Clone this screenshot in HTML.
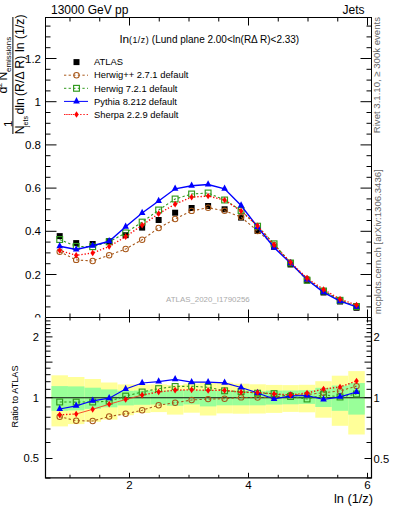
<!DOCTYPE html>
<html><head><meta charset="utf-8"><style>html,body{margin:0;padding:0;background:#fff;overflow:hidden}svg{display:block}text{font-family:"Liberation Sans",sans-serif}</style></head>
<body><svg width="393" height="512" viewBox="0 0 393 512">
<rect x="0" y="0" width="393" height="512" fill="#fff"/>
<text x="41" y="321.8" font-family="&quot;Liberation Sans&quot;, sans-serif" font-size="11.5" text-anchor="end">0</text>
<text x="41" y="278.6" font-family="&quot;Liberation Sans&quot;, sans-serif" font-size="11.5" text-anchor="end">0.2</text>
<text x="41" y="235.4" font-family="&quot;Liberation Sans&quot;, sans-serif" font-size="11.5" text-anchor="end">0.4</text>
<text x="41" y="192.2" font-family="&quot;Liberation Sans&quot;, sans-serif" font-size="11.5" text-anchor="end">0.6</text>
<text x="41" y="149.0" font-family="&quot;Liberation Sans&quot;, sans-serif" font-size="11.5" text-anchor="end">0.8</text>
<text x="41" y="105.8" font-family="&quot;Liberation Sans&quot;, sans-serif" font-size="11.5" text-anchor="end">1</text>
<text x="41" y="62.6" font-family="&quot;Liberation Sans&quot;, sans-serif" font-size="11.5" text-anchor="end">1.2</text>
<path d="M45.5,317.70h11M371.5,317.70h-11M45.5,306.90h5M371.5,306.90h-5M45.5,296.10h5M371.5,296.10h-5M45.5,285.30h5M371.5,285.30h-5M45.5,274.50h11M371.5,274.50h-11M45.5,263.70h5M371.5,263.70h-5M45.5,252.90h5M371.5,252.90h-5M45.5,242.10h5M371.5,242.10h-5M45.5,231.30h11M371.5,231.30h-11M45.5,220.50h5M371.5,220.50h-5M45.5,209.70h5M371.5,209.70h-5M45.5,198.90h5M371.5,198.90h-5M45.5,188.10h11M371.5,188.10h-11M45.5,177.30h5M371.5,177.30h-5M45.5,166.50h5M371.5,166.50h-5M45.5,155.70h5M371.5,155.70h-5M45.5,144.90h11M371.5,144.90h-11M45.5,134.10h5M371.5,134.10h-5M45.5,123.30h5M371.5,123.30h-5M45.5,112.50h5M371.5,112.50h-5M45.5,101.70h11M371.5,101.70h-11M45.5,90.90h5M371.5,90.90h-5M45.5,80.10h5M371.5,80.10h-5M45.5,69.30h5M371.5,69.30h-5M45.5,58.50h11M371.5,58.50h-11M45.5,47.70h5M371.5,47.70h-5M45.5,36.90h5M371.5,36.90h-5M45.5,26.10h5M371.5,26.10h-5M70.00,17.5v4M70.00,317.5v-4M99.75,17.5v4M99.75,317.5v-4M129.50,17.5v8M129.50,317.5v-8M159.25,17.5v4M159.25,317.5v-4M189.00,17.5v4M189.00,317.5v-4M218.75,17.5v4M218.75,317.5v-4M248.50,17.5v8M248.50,317.5v-8M278.25,17.5v4M278.25,317.5v-4M308.00,17.5v4M308.00,317.5v-4M337.75,17.5v4M337.75,317.5v-4M367.50,17.5v8M367.50,317.5v-8" stroke="#000" stroke-width="1" fill="none"/>
<rect x="45.5" y="17.5" width="326.0" height="300.0" fill="none" stroke="#000" stroke-width="1"/>
<text x="166" y="301.8" font-family="&quot;Liberation Sans&quot;, sans-serif" font-size="7.9" fill="#aaaaaa">ATLAS_2020_I1790256</text>
<rect x="56.70" y="233.10" width="6" height="6" fill="#000"/><rect x="73.19" y="240.10" width="6" height="6" fill="#000"/><rect x="89.68" y="241.00" width="6" height="6" fill="#000"/><rect x="106.17" y="238.10" width="6" height="6" fill="#000"/><rect x="122.66" y="232.20" width="6" height="6" fill="#000"/><rect x="139.15" y="224.60" width="6" height="6" fill="#000"/><rect x="155.64" y="217.00" width="6" height="6" fill="#000"/><rect x="172.13" y="209.70" width="6" height="6" fill="#000"/><rect x="188.62" y="205.00" width="6" height="6" fill="#000"/><rect x="205.11" y="203.00" width="6" height="6" fill="#000"/><rect x="221.60" y="206.30" width="6" height="6" fill="#000"/><rect x="238.09" y="214.60" width="6" height="6" fill="#000"/><rect x="254.58" y="228.00" width="6" height="6" fill="#000"/><rect x="271.07" y="243.80" width="6" height="6" fill="#000"/><rect x="287.56" y="261.50" width="6" height="6" fill="#000"/><rect x="304.05" y="277.50" width="6" height="6" fill="#000"/><rect x="320.54" y="289.50" width="6" height="6" fill="#000"/><rect x="337.03" y="298.50" width="6" height="6" fill="#000"/><rect x="353.52" y="304.80" width="6" height="6" fill="#000"/>
<path d="M59.70,251.80 L76.19,259.90 L92.68,261.00 L109.17,255.20 L125.66,249.00 L142.15,239.70 L158.64,228.00 L175.13,219.00 L191.62,210.90 L208.11,207.70 L224.60,210.80 L241.09,217.10 L257.58,231.00 L274.07,245.00 L290.56,262.80 L307.05,279.00 L323.54,291.00 L340.03,300.30 L356.52,306.30" fill="none" stroke="#a8581a" stroke-width="1.1" stroke-dasharray="2.3,2.3"/>
<circle cx="59.70" cy="251.80" r="2.7" fill="none" stroke="#a8581a" stroke-width="1.05"/><circle cx="76.19" cy="259.90" r="2.7" fill="none" stroke="#a8581a" stroke-width="1.05"/><circle cx="92.68" cy="261.00" r="2.7" fill="none" stroke="#a8581a" stroke-width="1.05"/><circle cx="109.17" cy="255.20" r="2.7" fill="none" stroke="#a8581a" stroke-width="1.05"/><circle cx="125.66" cy="249.00" r="2.7" fill="none" stroke="#a8581a" stroke-width="1.05"/><circle cx="142.15" cy="239.70" r="2.7" fill="none" stroke="#a8581a" stroke-width="1.05"/><circle cx="158.64" cy="228.00" r="2.7" fill="none" stroke="#a8581a" stroke-width="1.05"/><circle cx="175.13" cy="219.00" r="2.7" fill="none" stroke="#a8581a" stroke-width="1.05"/><circle cx="191.62" cy="210.90" r="2.7" fill="none" stroke="#a8581a" stroke-width="1.05"/><circle cx="208.11" cy="207.70" r="2.7" fill="none" stroke="#a8581a" stroke-width="1.05"/><circle cx="224.60" cy="210.80" r="2.7" fill="none" stroke="#a8581a" stroke-width="1.05"/><circle cx="241.09" cy="217.10" r="2.7" fill="none" stroke="#a8581a" stroke-width="1.05"/><circle cx="257.58" cy="231.00" r="2.7" fill="none" stroke="#a8581a" stroke-width="1.05"/><circle cx="274.07" cy="245.00" r="2.7" fill="none" stroke="#a8581a" stroke-width="1.05"/><circle cx="290.56" cy="262.80" r="2.7" fill="none" stroke="#a8581a" stroke-width="1.05"/><circle cx="307.05" cy="279.00" r="2.7" fill="none" stroke="#a8581a" stroke-width="1.05"/><circle cx="323.54" cy="291.00" r="2.7" fill="none" stroke="#a8581a" stroke-width="1.05"/><circle cx="340.03" cy="300.30" r="2.7" fill="none" stroke="#a8581a" stroke-width="1.05"/><circle cx="356.52" cy="306.30" r="2.7" fill="none" stroke="#a8581a" stroke-width="1.05"/>
<path d="M59.70,239.50 L76.19,246.40 L92.68,246.70 L109.17,241.80 L125.66,232.90 L142.15,222.10 L158.64,210.00 L175.13,199.00 L191.62,194.00 L208.11,193.00 L224.60,200.00 L241.09,210.50 L257.58,226.20 L274.07,243.80 L290.56,263.00 L307.05,280.20 L323.54,291.00 L340.03,300.30 L356.52,306.50" fill="none" stroke="#2f9a1c" stroke-width="1.1" stroke-dasharray="2.3,2.3"/>
<rect x="56.80" y="236.60" width="5.8" height="5.8" fill="none" stroke="#2f9a1c" stroke-width="1.15"/><rect x="73.29" y="243.50" width="5.8" height="5.8" fill="none" stroke="#2f9a1c" stroke-width="1.15"/><rect x="89.78" y="243.80" width="5.8" height="5.8" fill="none" stroke="#2f9a1c" stroke-width="1.15"/><rect x="106.27" y="238.90" width="5.8" height="5.8" fill="none" stroke="#2f9a1c" stroke-width="1.15"/><rect x="122.76" y="230.00" width="5.8" height="5.8" fill="none" stroke="#2f9a1c" stroke-width="1.15"/><rect x="139.25" y="219.20" width="5.8" height="5.8" fill="none" stroke="#2f9a1c" stroke-width="1.15"/><rect x="155.74" y="207.10" width="5.8" height="5.8" fill="none" stroke="#2f9a1c" stroke-width="1.15"/><rect x="172.23" y="196.10" width="5.8" height="5.8" fill="none" stroke="#2f9a1c" stroke-width="1.15"/><rect x="188.72" y="191.10" width="5.8" height="5.8" fill="none" stroke="#2f9a1c" stroke-width="1.15"/><rect x="205.21" y="190.10" width="5.8" height="5.8" fill="none" stroke="#2f9a1c" stroke-width="1.15"/><rect x="221.70" y="197.10" width="5.8" height="5.8" fill="none" stroke="#2f9a1c" stroke-width="1.15"/><rect x="238.19" y="207.60" width="5.8" height="5.8" fill="none" stroke="#2f9a1c" stroke-width="1.15"/><rect x="254.68" y="223.30" width="5.8" height="5.8" fill="none" stroke="#2f9a1c" stroke-width="1.15"/><rect x="271.17" y="240.90" width="5.8" height="5.8" fill="none" stroke="#2f9a1c" stroke-width="1.15"/><rect x="287.66" y="260.10" width="5.8" height="5.8" fill="none" stroke="#2f9a1c" stroke-width="1.15"/><rect x="304.15" y="277.30" width="5.8" height="5.8" fill="none" stroke="#2f9a1c" stroke-width="1.15"/><rect x="320.64" y="288.10" width="5.8" height="5.8" fill="none" stroke="#2f9a1c" stroke-width="1.15"/><rect x="337.13" y="297.40" width="5.8" height="5.8" fill="none" stroke="#2f9a1c" stroke-width="1.15"/><rect x="353.62" y="303.60" width="5.8" height="5.8" fill="none" stroke="#2f9a1c" stroke-width="1.15"/>
<path d="M59.70,246.30 L76.19,249.50 L92.68,245.80 L109.17,241.30 L125.66,226.80 L142.15,213.00 L158.64,201.00 L175.13,188.80 L191.62,185.80 L208.11,184.50 L224.60,188.80 L241.09,205.50 L257.58,227.00 L274.07,247.50 L290.56,263.30 L307.05,279.50 L323.54,292.30 L340.03,301.20 L356.52,306.80" fill="none" stroke="#0000ff" stroke-width="1.4" />
<path d="M59.70,242.00L63.00,248.30L56.40,248.30Z" fill="#0000ff"/><path d="M76.19,245.20L79.49,251.50L72.89,251.50Z" fill="#0000ff"/><path d="M92.68,241.50L95.98,247.80L89.38,247.80Z" fill="#0000ff"/><path d="M109.17,237.00L112.47,243.30L105.87,243.30Z" fill="#0000ff"/><path d="M125.66,222.50L128.96,228.80L122.36,228.80Z" fill="#0000ff"/><path d="M142.15,208.70L145.45,215.00L138.85,215.00Z" fill="#0000ff"/><path d="M158.64,196.70L161.94,203.00L155.34,203.00Z" fill="#0000ff"/><path d="M175.13,184.50L178.43,190.80L171.83,190.80Z" fill="#0000ff"/><path d="M191.62,181.50L194.92,187.80L188.32,187.80Z" fill="#0000ff"/><path d="M208.11,180.20L211.41,186.50L204.81,186.50Z" fill="#0000ff"/><path d="M224.60,184.50L227.90,190.80L221.30,190.80Z" fill="#0000ff"/><path d="M241.09,201.20L244.39,207.50L237.79,207.50Z" fill="#0000ff"/><path d="M257.58,222.70L260.88,229.00L254.28,229.00Z" fill="#0000ff"/><path d="M274.07,243.20L277.37,249.50L270.77,249.50Z" fill="#0000ff"/><path d="M290.56,259.00L293.86,265.30L287.26,265.30Z" fill="#0000ff"/><path d="M307.05,275.20L310.35,281.50L303.75,281.50Z" fill="#0000ff"/><path d="M323.54,288.00L326.84,294.30L320.24,294.30Z" fill="#0000ff"/><path d="M340.03,296.90L343.33,303.20L336.73,303.20Z" fill="#0000ff"/><path d="M356.52,302.50L359.82,308.80L353.22,308.80Z" fill="#0000ff"/>
<path d="M59.70,250.50 L76.19,255.30 L92.68,253.00 L109.17,246.50 L125.66,236.70 L142.15,225.20 L158.64,213.70 L175.13,204.20 L191.62,197.20 L208.11,196.00 L224.60,200.00 L241.09,211.00 L257.58,225.80 L274.07,244.80 L290.56,262.50 L307.05,278.20 L323.54,289.50 L340.03,299.20 L356.52,305.00" fill="none" stroke="#ff0000" stroke-width="1.35" stroke-dasharray="1.3,1.9"/>
<path d="M59.70,247.15L61.90,250.50L59.70,253.85L57.50,250.50Z" fill="#ff0000"/><path d="M76.19,251.95L78.39,255.30L76.19,258.65L73.99,255.30Z" fill="#ff0000"/><path d="M92.68,249.65L94.88,253.00L92.68,256.35L90.48,253.00Z" fill="#ff0000"/><path d="M109.17,243.15L111.37,246.50L109.17,249.85L106.97,246.50Z" fill="#ff0000"/><path d="M125.66,233.35L127.86,236.70L125.66,240.05L123.46,236.70Z" fill="#ff0000"/><path d="M142.15,221.85L144.35,225.20L142.15,228.55L139.95,225.20Z" fill="#ff0000"/><path d="M158.64,210.35L160.84,213.70L158.64,217.05L156.44,213.70Z" fill="#ff0000"/><path d="M175.13,200.85L177.33,204.20L175.13,207.55L172.93,204.20Z" fill="#ff0000"/><path d="M191.62,193.85L193.82,197.20L191.62,200.55L189.42,197.20Z" fill="#ff0000"/><path d="M208.11,192.65L210.31,196.00L208.11,199.35L205.91,196.00Z" fill="#ff0000"/><path d="M224.60,196.65L226.80,200.00L224.60,203.35L222.40,200.00Z" fill="#ff0000"/><path d="M241.09,207.65L243.29,211.00L241.09,214.35L238.89,211.00Z" fill="#ff0000"/><path d="M257.58,222.45L259.78,225.80L257.58,229.15L255.38,225.80Z" fill="#ff0000"/><path d="M274.07,241.45L276.27,244.80L274.07,248.15L271.87,244.80Z" fill="#ff0000"/><path d="M290.56,259.15L292.76,262.50L290.56,265.85L288.36,262.50Z" fill="#ff0000"/><path d="M307.05,274.85L309.25,278.20L307.05,281.55L304.85,278.20Z" fill="#ff0000"/><path d="M323.54,286.15L325.74,289.50L323.54,292.85L321.34,289.50Z" fill="#ff0000"/><path d="M340.03,295.85L342.23,299.20L340.03,302.55L337.83,299.20Z" fill="#ff0000"/><path d="M356.52,301.65L358.72,305.00L356.52,308.35L354.32,305.00Z" fill="#ff0000"/>
<text x="94" y="65.3" font-family="&quot;Liberation Sans&quot;, sans-serif" font-size="9.4">ATLAS</text>
<rect x="73.50" y="59.10" width="6" height="6" fill="#000"/>
<text x="94" y="78.4" font-family="&quot;Liberation Sans&quot;, sans-serif" font-size="9.4">Herwig++ 2.7.1 default</text>
<path d="M64,75.2H88" fill="none" stroke="#a8581a" stroke-width="1.0" stroke-dasharray="2.3,2.3"/>
<circle cx="76.50" cy="75.20" r="2.7" fill="none" stroke="#a8581a" stroke-width="1.05"/>
<text x="94" y="91.5" font-family="&quot;Liberation Sans&quot;, sans-serif" font-size="9.4">Herwig 7.2.1 default</text>
<path d="M64,88.3H88" fill="none" stroke="#2f9a1c" stroke-width="1.0" stroke-dasharray="2.3,2.3"/>
<rect x="73.60" y="85.40" width="5.8" height="5.8" fill="none" stroke="#2f9a1c" stroke-width="1.15"/>
<text x="94" y="104.6" font-family="&quot;Liberation Sans&quot;, sans-serif" font-size="9.4">Pythia 8.212 default</text>
<path d="M64,101.4H88" fill="none" stroke="#0000ff" stroke-width="1.0" />
<path d="M76.50,97.10L79.80,103.40L73.20,103.40Z" fill="#0000ff"/>
<text x="94" y="117.7" font-family="&quot;Liberation Sans&quot;, sans-serif" font-size="9.4">Sherpa 2.2.9 default</text>
<path d="M64,114.5H76" fill="none" stroke="#ff0000" stroke-width="0.9" stroke-dasharray="1.5,0.7"/>
<path d="M77,114.5H88" fill="none" stroke="#ff0000" stroke-width="1.1" stroke-dasharray="1.3,1.9"/>
<path d="M76.50,111.15L78.70,114.50L76.50,117.85L74.30,114.50Z" fill="#ff0000"/>
<text x="119.8" y="42.7" font-family="&quot;Liberation Sans&quot;, sans-serif" font-size="11.8">ln<tspan font-size="8.8" dy="0.6" letter-spacing="0.5">(1/z)</tspan><tspan font-size="10.0" dy="-0.6"> (Lund plane 2.00&lt;ln(RΔ R)&lt;2.33)</tspan></text>
<text x="51" y="13.7" font-family="&quot;Liberation Sans&quot;, sans-serif" font-size="12">13000 GeV pp</text>
<text x="364.5" y="13.7" font-family="&quot;Liberation Sans&quot;, sans-serif" font-size="12" text-anchor="end">Jets</text>
<line x1="12.9" y1="17" x2="12.9" y2="134" stroke="#000" stroke-width="1"/>
<text transform="translate(11.7,127.0) rotate(-90)" font-family="&quot;Liberation Sans&quot;, sans-serif" font-size="11.5" >1</text>
<text transform="translate(6.9,93.6) rotate(-90)" font-family="&quot;Liberation Sans&quot;, sans-serif" font-size="12.3" >d</text>
<text transform="translate(1.5,87.0) rotate(-90)" font-family="&quot;Liberation Sans&quot;, sans-serif" font-size="7.6" >2</text>
<text transform="translate(6.9,80.5) rotate(-90)" font-family="&quot;Liberation Sans&quot;, sans-serif" font-size="12.3" >N</text>
<text transform="translate(11.0,72.0) rotate(-90)" font-family="&quot;Liberation Sans&quot;, sans-serif" font-size="7.9" >emissions</text>
<text transform="translate(24.1,134.2) rotate(-90)" font-family="&quot;Liberation Sans&quot;, sans-serif" font-size="12.3" >N</text>
<text transform="translate(28.2,127.0) rotate(-90)" font-family="&quot;Liberation Sans&quot;, sans-serif" font-size="7.0" >jets</text>
<text transform="translate(24.1,114.6) rotate(-90)" font-family="&quot;Liberation Sans&quot;, sans-serif" font-size="12.3" >dln</text>
<text transform="translate(24.1,96.0) rotate(-90)" font-family="&quot;Liberation Sans&quot;, sans-serif" font-size="12.3" >(R/Δ R)</text>
<text transform="translate(24.1,52.0) rotate(-90)" font-family="&quot;Liberation Sans&quot;, sans-serif" font-size="12.3" >ln (1/z)</text>
<text transform="translate(380,133.2) rotate(-90)" font-family="&quot;Liberation Sans&quot;, sans-serif" font-size="9.6" fill="#666">Rivet 3.1.10, ≥ 300k events</text>
<text transform="translate(381,314.3) rotate(-90)" font-family="&quot;Liberation Sans&quot;, sans-serif" font-size="9.6" fill="#666">mcplots.cern.ch [arXiv:1306.3436]</text>
<rect x="0" y="317.5" width="393" height="194.5" fill="#fff"/>
<rect x="51.46" y="375.3" width="16.49" height="51.10" fill="#ffff99"/>
<rect x="67.95" y="377.0" width="16.49" height="47.10" fill="#ffff99"/>
<rect x="84.44" y="379.0" width="16.49" height="42.80" fill="#ffff99"/>
<rect x="100.93" y="382.5" width="16.49" height="37.10" fill="#ffff99"/>
<rect x="117.41" y="384.4" width="16.49" height="30.80" fill="#ffff99"/>
<rect x="133.91" y="384.5" width="16.49" height="28.50" fill="#ffff99"/>
<rect x="150.40" y="384.4" width="16.49" height="27.70" fill="#ffff99"/>
<rect x="166.88" y="385.0" width="16.49" height="29.60" fill="#ffff99"/>
<rect x="183.38" y="383.7" width="16.49" height="29.00" fill="#ffff99"/>
<rect x="199.87" y="382.5" width="16.49" height="33.00" fill="#ffff99"/>
<rect x="216.35" y="382.5" width="16.49" height="30.90" fill="#ffff99"/>
<rect x="232.84" y="383.7" width="16.49" height="30.00" fill="#ffff99"/>
<rect x="249.34" y="384.3" width="16.49" height="29.20" fill="#ffff99"/>
<rect x="265.82" y="384.9" width="16.49" height="28.00" fill="#ffff99"/>
<rect x="282.31" y="385.1" width="16.49" height="26.80" fill="#ffff99"/>
<rect x="298.80" y="384.8" width="16.49" height="27.50" fill="#ffff99"/>
<rect x="315.29" y="381.2" width="16.49" height="36.50" fill="#ffff99"/>
<rect x="331.78" y="375.7" width="16.49" height="50.10" fill="#ffff99"/>
<rect x="348.27" y="371.1" width="16.49" height="63.40" fill="#ffff99"/>
<rect x="51.46" y="386.1" width="16.49" height="24.80" fill="#99ff99"/>
<rect x="67.95" y="386.4" width="16.49" height="24.00" fill="#99ff99"/>
<rect x="84.44" y="387.7" width="16.49" height="21.20" fill="#99ff99"/>
<rect x="100.93" y="389.4" width="16.49" height="17.90" fill="#99ff99"/>
<rect x="117.41" y="390.8" width="16.49" height="14.60" fill="#99ff99"/>
<rect x="133.91" y="390.5" width="16.49" height="14.30" fill="#99ff99"/>
<rect x="150.40" y="390.7" width="16.49" height="13.80" fill="#99ff99"/>
<rect x="166.88" y="390.1" width="16.49" height="15.60" fill="#99ff99"/>
<rect x="183.38" y="390.1" width="16.49" height="14.40" fill="#99ff99"/>
<rect x="199.87" y="390.1" width="16.49" height="16.30" fill="#99ff99"/>
<rect x="216.35" y="390.7" width="16.49" height="14.60" fill="#99ff99"/>
<rect x="232.84" y="390.7" width="16.49" height="14.60" fill="#99ff99"/>
<rect x="249.34" y="391.3" width="16.49" height="14.00" fill="#99ff99"/>
<rect x="265.82" y="390.6" width="16.49" height="14.00" fill="#99ff99"/>
<rect x="282.31" y="390.5" width="16.49" height="13.80" fill="#99ff99"/>
<rect x="298.80" y="390.2" width="16.49" height="13.70" fill="#99ff99"/>
<rect x="315.29" y="387.8" width="16.49" height="19.20" fill="#99ff99"/>
<rect x="331.78" y="385.6" width="16.49" height="25.20" fill="#99ff99"/>
<rect x="348.27" y="383.0" width="16.49" height="31.60" fill="#99ff99"/>
<path d="M45.5,397.70H371.5" stroke="#111" stroke-width="1.15"/>
<path d="M59.70,416.70 L76.19,420.70 L92.68,421.00 L109.17,416.50 L125.66,413.80 L142.15,410.20 L158.64,405.20 L175.13,402.70 L191.62,400.00 L208.11,399.10 L224.60,398.70 L241.09,397.40 L257.58,397.60 L274.07,397.00 L290.56,395.00 L307.05,394.60 L323.54,392.70 L340.03,391.00 L356.52,386.10" fill="none" stroke="#a8581a" stroke-width="1.1" stroke-dasharray="2.3,2.3"/>
<circle cx="59.70" cy="416.70" r="2.7" fill="none" stroke="#a8581a" stroke-width="1.05"/><circle cx="76.19" cy="420.70" r="2.7" fill="none" stroke="#a8581a" stroke-width="1.05"/><circle cx="92.68" cy="421.00" r="2.7" fill="none" stroke="#a8581a" stroke-width="1.05"/><circle cx="109.17" cy="416.50" r="2.7" fill="none" stroke="#a8581a" stroke-width="1.05"/><circle cx="125.66" cy="413.80" r="2.7" fill="none" stroke="#a8581a" stroke-width="1.05"/><circle cx="142.15" cy="410.20" r="2.7" fill="none" stroke="#a8581a" stroke-width="1.05"/><circle cx="158.64" cy="405.20" r="2.7" fill="none" stroke="#a8581a" stroke-width="1.05"/><circle cx="175.13" cy="402.70" r="2.7" fill="none" stroke="#a8581a" stroke-width="1.05"/><circle cx="191.62" cy="400.00" r="2.7" fill="none" stroke="#a8581a" stroke-width="1.05"/><circle cx="208.11" cy="399.10" r="2.7" fill="none" stroke="#a8581a" stroke-width="1.05"/><circle cx="224.60" cy="398.70" r="2.7" fill="none" stroke="#a8581a" stroke-width="1.05"/><circle cx="241.09" cy="397.40" r="2.7" fill="none" stroke="#a8581a" stroke-width="1.05"/><circle cx="257.58" cy="397.60" r="2.7" fill="none" stroke="#a8581a" stroke-width="1.05"/><circle cx="274.07" cy="397.00" r="2.7" fill="none" stroke="#a8581a" stroke-width="1.05"/><circle cx="290.56" cy="395.00" r="2.7" fill="none" stroke="#a8581a" stroke-width="1.05"/><circle cx="307.05" cy="394.60" r="2.7" fill="none" stroke="#a8581a" stroke-width="1.05"/><circle cx="323.54" cy="392.70" r="2.7" fill="none" stroke="#a8581a" stroke-width="1.05"/><circle cx="340.03" cy="391.00" r="2.7" fill="none" stroke="#a8581a" stroke-width="1.05"/><circle cx="356.52" cy="386.10" r="2.7" fill="none" stroke="#a8581a" stroke-width="1.05"/>
<path d="M59.70,402.00 L76.19,402.10 L92.68,402.00 L109.17,401.20 L125.66,396.10 L142.15,392.00 L158.64,388.60 L175.13,386.50 L191.62,386.20 L208.11,387.30 L224.60,390.80 L241.09,391.50 L257.58,393.20 L274.07,393.60 L290.56,396.50 L307.05,399.00 L323.54,394.70 L340.03,397.00 L356.52,394.00" fill="none" stroke="#2f9a1c" stroke-width="1.1" stroke-dasharray="2.3,2.3"/>
<rect x="56.80" y="399.10" width="5.8" height="5.8" fill="none" stroke="#2f9a1c" stroke-width="1.15"/><rect x="73.29" y="399.20" width="5.8" height="5.8" fill="none" stroke="#2f9a1c" stroke-width="1.15"/><rect x="89.78" y="399.10" width="5.8" height="5.8" fill="none" stroke="#2f9a1c" stroke-width="1.15"/><rect x="106.27" y="398.30" width="5.8" height="5.8" fill="none" stroke="#2f9a1c" stroke-width="1.15"/><rect x="122.76" y="393.20" width="5.8" height="5.8" fill="none" stroke="#2f9a1c" stroke-width="1.15"/><rect x="139.25" y="389.10" width="5.8" height="5.8" fill="none" stroke="#2f9a1c" stroke-width="1.15"/><rect x="155.74" y="385.70" width="5.8" height="5.8" fill="none" stroke="#2f9a1c" stroke-width="1.15"/><rect x="172.23" y="383.60" width="5.8" height="5.8" fill="none" stroke="#2f9a1c" stroke-width="1.15"/><rect x="188.72" y="383.30" width="5.8" height="5.8" fill="none" stroke="#2f9a1c" stroke-width="1.15"/><rect x="205.21" y="384.40" width="5.8" height="5.8" fill="none" stroke="#2f9a1c" stroke-width="1.15"/><rect x="221.70" y="387.90" width="5.8" height="5.8" fill="none" stroke="#2f9a1c" stroke-width="1.15"/><rect x="238.19" y="388.60" width="5.8" height="5.8" fill="none" stroke="#2f9a1c" stroke-width="1.15"/><rect x="254.68" y="390.30" width="5.8" height="5.8" fill="none" stroke="#2f9a1c" stroke-width="1.15"/><rect x="271.17" y="390.70" width="5.8" height="5.8" fill="none" stroke="#2f9a1c" stroke-width="1.15"/><rect x="287.66" y="393.60" width="5.8" height="5.8" fill="none" stroke="#2f9a1c" stroke-width="1.15"/><rect x="304.15" y="396.10" width="5.8" height="5.8" fill="none" stroke="#2f9a1c" stroke-width="1.15"/><rect x="320.64" y="391.80" width="5.8" height="5.8" fill="none" stroke="#2f9a1c" stroke-width="1.15"/><rect x="337.13" y="394.10" width="5.8" height="5.8" fill="none" stroke="#2f9a1c" stroke-width="1.15"/><rect x="353.62" y="391.10" width="5.8" height="5.8" fill="none" stroke="#2f9a1c" stroke-width="1.15"/>
<path d="M59.70,409.00 L76.19,405.80 L92.68,400.80 L109.17,398.20 L125.66,389.00 L142.15,383.00 L158.64,381.60 L175.13,379.30 L191.62,382.20 L208.11,382.20 L224.60,382.80 L241.09,387.50 L257.58,393.00 L274.07,399.00 L290.56,395.90 L307.05,395.50 L323.54,399.50 L340.03,396.80 L356.52,392.00" fill="none" stroke="#0000ff" stroke-width="1.2" />
<path d="M59.70,404.70L63.00,411.00L56.40,411.00Z" fill="#0000ff"/><path d="M76.19,401.50L79.49,407.80L72.89,407.80Z" fill="#0000ff"/><path d="M92.68,396.50L95.98,402.80L89.38,402.80Z" fill="#0000ff"/><path d="M109.17,393.90L112.47,400.20L105.87,400.20Z" fill="#0000ff"/><path d="M125.66,384.70L128.96,391.00L122.36,391.00Z" fill="#0000ff"/><path d="M142.15,378.70L145.45,385.00L138.85,385.00Z" fill="#0000ff"/><path d="M158.64,377.30L161.94,383.60L155.34,383.60Z" fill="#0000ff"/><path d="M175.13,375.00L178.43,381.30L171.83,381.30Z" fill="#0000ff"/><path d="M191.62,377.90L194.92,384.20L188.32,384.20Z" fill="#0000ff"/><path d="M208.11,377.90L211.41,384.20L204.81,384.20Z" fill="#0000ff"/><path d="M224.60,378.50L227.90,384.80L221.30,384.80Z" fill="#0000ff"/><path d="M241.09,383.20L244.39,389.50L237.79,389.50Z" fill="#0000ff"/><path d="M257.58,388.70L260.88,395.00L254.28,395.00Z" fill="#0000ff"/><path d="M274.07,394.70L277.37,401.00L270.77,401.00Z" fill="#0000ff"/><path d="M290.56,391.60L293.86,397.90L287.26,397.90Z" fill="#0000ff"/><path d="M307.05,391.20L310.35,397.50L303.75,397.50Z" fill="#0000ff"/><path d="M323.54,395.20L326.84,401.50L320.24,401.50Z" fill="#0000ff"/><path d="M340.03,392.50L343.33,398.80L336.73,398.80Z" fill="#0000ff"/><path d="M356.52,387.70L359.82,394.00L353.22,394.00Z" fill="#0000ff"/>
<path d="M59.70,414.80 L76.19,414.00" fill="none" stroke="#ff0000" stroke-width="1.35" stroke-dasharray="1.3,1.9"/>
<path d="M76.19,414.00 L92.68,409.30 L109.17,404.20 L125.66,399.50 L142.15,395.10" fill="none" stroke="#f04020" stroke-width="0.9"/>
<path d="M142.15,395.10 L158.64,391.90 L175.13,390.20 L191.62,389.80 L208.11,390.40 L224.60,390.40 L241.09,392.20 L257.58,392.50 L274.07,393.80 L290.56,395.00 L307.05,393.00 L323.54,389.00 L340.03,387.00 L356.52,381.00" fill="none" stroke="#ff0000" stroke-width="1.35" stroke-dasharray="1.3,1.9"/>
<path d="M59.70,411.45L61.90,414.80L59.70,418.15L57.50,414.80Z" fill="#ff0000"/><path d="M76.19,410.65L78.39,414.00L76.19,417.35L73.99,414.00Z" fill="#ff0000"/><path d="M92.68,405.95L94.88,409.30L92.68,412.65L90.48,409.30Z" fill="#ff0000"/><path d="M109.17,400.85L111.37,404.20L109.17,407.55L106.97,404.20Z" fill="#ff0000"/><path d="M125.66,396.15L127.86,399.50L125.66,402.85L123.46,399.50Z" fill="#ff0000"/><path d="M142.15,391.75L144.35,395.10L142.15,398.45L139.95,395.10Z" fill="#ff0000"/><path d="M158.64,388.55L160.84,391.90L158.64,395.25L156.44,391.90Z" fill="#ff0000"/><path d="M175.13,386.85L177.33,390.20L175.13,393.55L172.93,390.20Z" fill="#ff0000"/><path d="M191.62,386.45L193.82,389.80L191.62,393.15L189.42,389.80Z" fill="#ff0000"/><path d="M208.11,387.05L210.31,390.40L208.11,393.75L205.91,390.40Z" fill="#ff0000"/><path d="M224.60,387.05L226.80,390.40L224.60,393.75L222.40,390.40Z" fill="#ff0000"/><path d="M241.09,388.85L243.29,392.20L241.09,395.55L238.89,392.20Z" fill="#ff0000"/><path d="M257.58,389.15L259.78,392.50L257.58,395.85L255.38,392.50Z" fill="#ff0000"/><path d="M274.07,390.45L276.27,393.80L274.07,397.15L271.87,393.80Z" fill="#ff0000"/><path d="M290.56,391.65L292.76,395.00L290.56,398.35L288.36,395.00Z" fill="#ff0000"/><path d="M307.05,389.65L309.25,393.00L307.05,396.35L304.85,393.00Z" fill="#ff0000"/><path d="M323.54,385.65L325.74,389.00L323.54,392.35L321.34,389.00Z" fill="#ff0000"/><path d="M340.03,383.65L342.23,387.00L340.03,390.35L337.83,387.00Z" fill="#ff0000"/><path d="M356.52,377.65L358.72,381.00L356.52,384.35L354.32,381.00Z" fill="#ff0000"/>
<path d="M45.5,478.08h5M371.5,478.08h-5M45.5,458.51h7M371.5,458.51h-7M45.5,442.51h5M371.5,442.51h-5M45.5,428.99h5M371.5,428.99h-5M45.5,417.28h5M371.5,417.28h-5M45.5,406.94h5M371.5,406.94h-5M45.5,397.70h7M371.5,397.70h-7M45.5,389.34h5M371.5,389.34h-5M45.5,381.71h5M371.5,381.71h-5M45.5,374.68h5M371.5,374.68h-5M45.5,368.18h5M371.5,368.18h-5M45.5,362.13h7M371.5,362.13h-7M45.5,356.47h5M371.5,356.47h-5M45.5,351.15h5M371.5,351.15h-5M45.5,346.13h5M371.5,346.13h-5M45.5,341.39h5M371.5,341.39h-5M45.5,336.89h7M371.5,336.89h-7M45.5,332.61h5M371.5,332.61h-5M45.5,328.53h5M371.5,328.53h-5M45.5,324.63h5M371.5,324.63h-5M45.5,320.90h5M371.5,320.90h-5M70.00,317.5v3M70.00,477.8v-3M99.75,317.5v3M99.75,477.8v-3M129.50,317.5v5M129.50,477.8v-5M159.25,317.5v3M159.25,477.8v-3M189.00,317.5v3M189.00,477.8v-3M218.75,317.5v3M218.75,477.8v-3M248.50,317.5v5M248.50,477.8v-5M278.25,317.5v3M278.25,477.8v-3M308.00,317.5v3M308.00,477.8v-3M337.75,317.5v3M337.75,477.8v-3M367.50,317.5v5M367.50,477.8v-5" stroke="#000" stroke-width="1" fill="none"/>
<path d="M45.5,317.5V477.8H371.5V317.5" fill="none" stroke="#000" stroke-width="1.2"/>
<path d="M45.5,317.5H371.5" fill="none" stroke="#000" stroke-width="1"/>
<text x="39" y="340.7" font-family="&quot;Liberation Sans&quot;, sans-serif" font-size="11.2" text-anchor="end">2</text>
<text x="373.6" y="340.9" font-family="&quot;Liberation Sans&quot;, sans-serif" font-size="11.2">2</text>
<text x="39" y="401.5" font-family="&quot;Liberation Sans&quot;, sans-serif" font-size="11.2" text-anchor="end">1</text>
<text x="373.6" y="401.7" font-family="&quot;Liberation Sans&quot;, sans-serif" font-size="11.2">1</text>
<text x="39" y="462.3" font-family="&quot;Liberation Sans&quot;, sans-serif" font-size="11.2" text-anchor="end">0.5</text>
<text x="373.6" y="462.5" font-family="&quot;Liberation Sans&quot;, sans-serif" font-size="11.2">0.5</text>
<text transform="translate(18.2,427.5) rotate(-90)" font-family="&quot;Liberation Sans&quot;, sans-serif" font-size="9.2">Ratio to ATLAS</text>
<text x="129.5" y="489" font-family="&quot;Liberation Sans&quot;, sans-serif" font-size="11.5" text-anchor="middle">2</text>
<text x="248.5" y="489" font-family="&quot;Liberation Sans&quot;, sans-serif" font-size="11.5" text-anchor="middle">4</text>
<text x="367.5" y="489" font-family="&quot;Liberation Sans&quot;, sans-serif" font-size="11.5" text-anchor="middle">6</text>
<text x="373" y="503.4" font-family="&quot;Liberation Sans&quot;, sans-serif" font-size="12.8" text-anchor="end">ln (1/z)</text>
</svg></body></html>
